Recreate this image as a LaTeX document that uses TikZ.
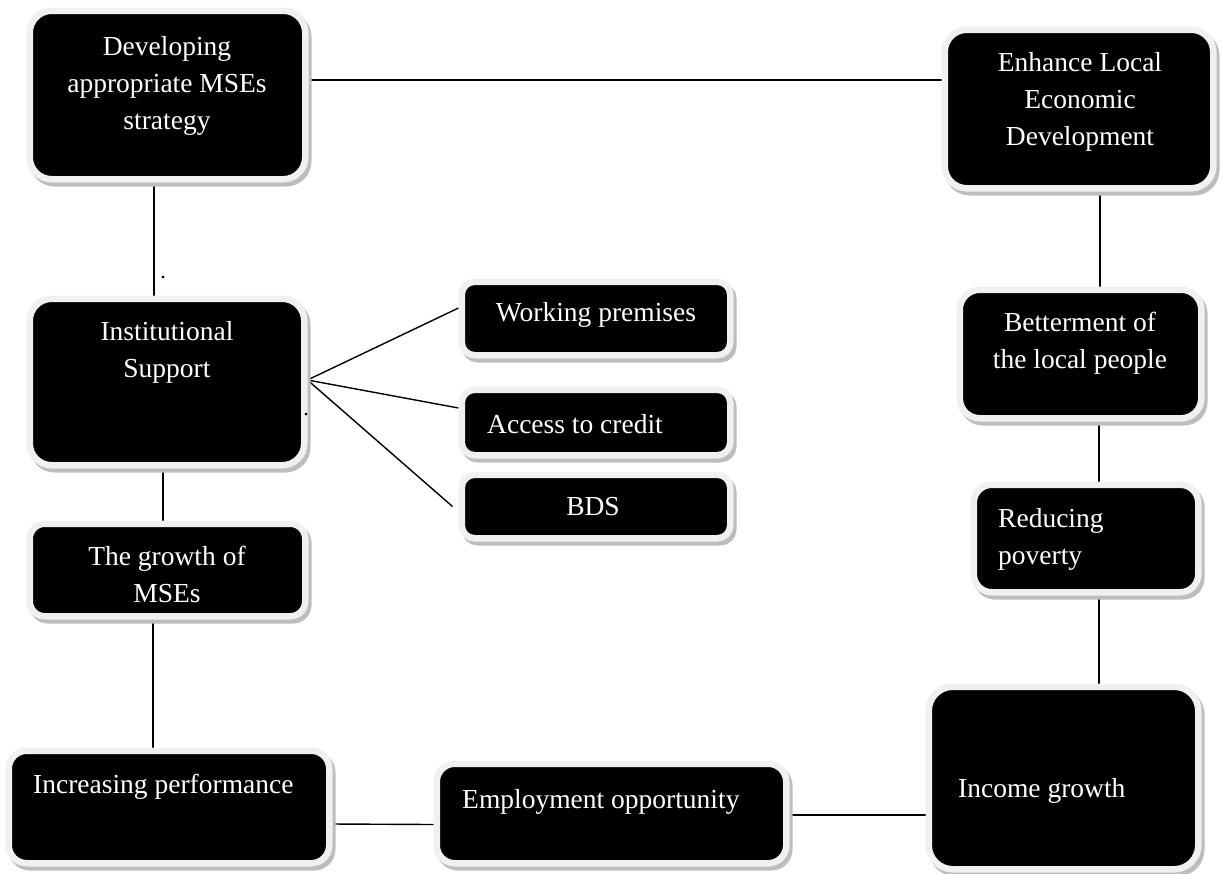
\documentclass[tikz,border=0pt]{standalone}
\usepackage{fontspec}
\setmainfont{Liberation Serif}
\usetikzlibrary{shadows,calc}
\pgfdeclarelayer{background}
\pgfsetlayers{background,main}
\definecolor{frameclr}{HTML}{F0F0F0}
\definecolor{shadeclr}{HTML}{BDBDBD}
\newcommand{\boxfont}{\fontsize{27.5}{37}\selectfont}
\tikzset{
  box/.style={draw=frameclr, line width=6.5pt, fill=black, rounded corners=#1,
    inner sep=0pt,
    drop shadow={shadow xshift=3pt, shadow yshift=-4pt, opacity=1,
      fill=shadeclr, draw=shadeclr, line width=6.5pt}},
  box/.default=18pt,
  txt/.style={text=white, font=\boxfont, align=center, inner sep=0pt},
  txtl/.style={txt, align=left, anchor=west},
  conn/.style={draw=black, line width=1.4pt},
  dotmark/.style={font=\fontsize{22}{22}\selectfont, inner sep=0pt}
}
\begin{document}
\begin{tikzpicture}[x=1pt, y=-1pt]
\useasboundingbox (0,0) rectangle (1222,873);
% boxes
\node[box=22pt, minimum width=275.5pt, minimum height=168.5pt] (dev) at (167.5,95) {};
\node[box=22pt, minimum width=268.5pt, minimum height=158.5pt] (enh) at (1079,109) {};
\node[box=22pt, minimum width=274.5pt, minimum height=166.5pt] (inst) at (167,382) {};
\node[box=15pt, minimum width=275.5pt, minimum height=92.5pt] (growth) at (167.5,570) {};
\node[box=13pt, minimum width=268.5pt, minimum height=73.5pt] (wp) at (596,318.5) {};
\node[box=13pt, minimum width=268.5pt, minimum height=65.5pt] (ac) at (596,422.5) {};
\node[box=13pt, minimum width=268.5pt, minimum height=63.5pt] (bds) at (596,506.5) {};
\node[box=20pt, minimum width=241.5pt, minimum height=128.5pt] (bett) at (1080.5,354) {};
\node[box=18pt, minimum width=224.5pt, minimum height=107.5pt] (red) at (1086,538.5) {};
\node[box=24pt, minimum width=269.5pt, minimum height=182.5pt] (inc) at (1063.5,778) {};
\node[box=18pt, minimum width=320.5pt, minimum height=112.5pt] (incp) at (169,807) {};
\node[box=18pt, minimum width=349.5pt, minimum height=99.5pt] (emp) at (611.5,813.5) {};
% texts
\node[txt] (dev-t) at (167,86) {Developing\\appropriate MSEs\\strategy};
\node[txt] (enh-t) at (1080,102) {Enhance Local\\Economic\\Development};
\node[txt] (inst-t) at (167,352) {Institutional\\Support};
\node[txt] (growth-t) at (167,574) {The growth of\\MSEs};
\node[txt] (wp-t) at (596,315) {Working premises};
\node[txtl] (ac-t) at (487,424) {Access to credit};
\node[txt] (bds-t) at (593,507) {BDS};
\node[txt] (bett-t) at (1080,343) {Betterment of\\the local people};
\node[txtl] (red-t) at (998,539) {Reducing\\poverty};
\node[txtl] (inc-t) at (958,791) {Income growth};
\node[txtl] (incp-t) at (33,787) {Increasing performance};
\node[txtl] (emp-t) at (462,802) {Employment opportunity};
% stray dots
\node[dotmark] (dot1) at (163,278) {.};
\node[dotmark] (dot2) at (306,415) {.};
% connectors
\begin{pgfonlayer}{background}
\draw[conn] ([yshift=15pt]dev.east) -- ([yshift=15pt]dev.east -| enh.west);
\draw[conn] ([xshift=-13.5pt]dev.south) -- ([xshift=-13.5pt]dev.south |- inst.north);
\draw[conn] ([xshift=-4pt]inst.south) -- ([xshift=-4pt]inst.south |- growth.north);
\draw[conn] ([xshift=-14.5pt]growth.south) -- ([xshift=-14.5pt]growth.south |- incp.north);
\draw[conn] ([yshift=2pt]inst.east) -- ([yshift=10.5pt]wp.west);
\draw[conn] ([yshift=2pt]inst.east) -- ([yshift=14.5pt]ac.west);
\draw[conn] ([yshift=2pt]inst.east) -- ([xshift=-6pt,yshift=0pt]bds.west);
\draw[conn] ([yshift=-17pt]incp.east) -- ([yshift=-11pt]emp.west);
\draw[conn] ([yshift=-1.5pt]emp.east) -- ([yshift=-1.5pt]emp.east -| inc.west);
\draw[conn] ([xshift=21pt]enh.south) -- ([xshift=21pt]enh.south |- bett.north);
\draw[conn] ([xshift=18.5pt]bett.south) -- ([xshift=18.5pt]bett.south |- red.north);
\draw[conn] ([xshift=13pt]red.south) -- ([xshift=13pt]red.south |- inc.north);
\end{pgfonlayer}
\end{tikzpicture}
\end{document}
